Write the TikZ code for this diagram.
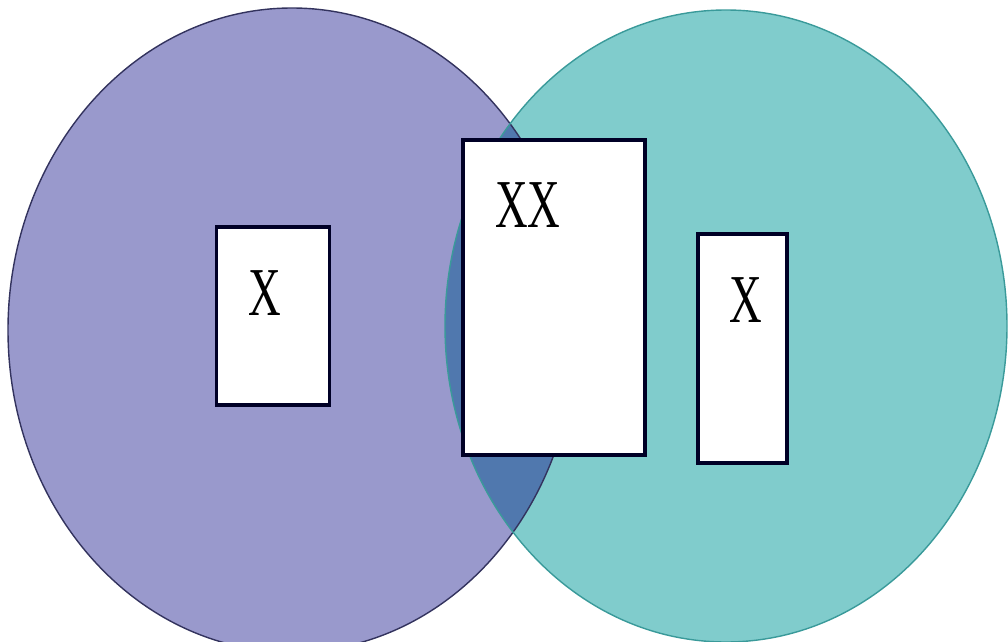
\documentclass[tikz,border=0pt]{standalone}
\usepackage{fontspec}
\setmainfont{Liberation Serif}
\usepackage{xcolor}
\usepackage{tikz}
\definecolor{setleft}{HTML}{9999CC}
\definecolor{setright}{HTML}{80CCCC}
\definecolor{setboth}{HTML}{5078AE}
\definecolor{edgeleft}{HTML}{33335E}
\definecolor{edgeright}{HTML}{3A9A9A}

\tikzset{
  elembox/.style={draw=black!85!blue, line width=1.8pt, fill=white, inner sep=0pt},
  elemlabel/.style={font=\fontsize{39}{40}\selectfont, inner sep=0pt}
}

\begin{document}
\begin{tikzpicture}[x=0.02cm, y=-0.02cm]
      \useasboundingbox (0,0) rectangle (1008,642);
      \clip (0,0) rectangle (1008,642);

      % Set regions
      \fill[setleft] (292,330) ellipse [x radius=284, y radius=322];
      \fill[setright] (726,326) ellipse [x radius=281, y radius=316];

      % Overlap region
      \begin{scope}
        \clip (292,330) ellipse [x radius=284, y radius=322];
        \fill[setboth] (726,326) ellipse [x radius=281, y radius=316];
      \end{scope}

      % Outlines
      \draw[edgeleft, line width=0.8pt] (292,330) ellipse [x radius=284, y radius=322];
      \draw[edgeright, line width=0.8pt] (726,326) ellipse [x radius=281, y radius=316];

      % Element boxes
      \node[elembox, minimum width=2.26cm, minimum height=3.56cm] (lbox) at (273,316) {};
      \node[elembox, minimum width=3.64cm, minimum height=6.30cm] (mbox) at (554,297.5) {};
      \node[elembox, minimum width=1.78cm, minimum height=4.58cm] (rbox) at (742.5,348.5) {};

      % Labels
      \node[elemlabel] (llabel) at (265,293) {\scalebox{0.66}[1]{X}};
      \node[elemlabel] (mlabel) at (528,205) {\scalebox{0.66}[1]{XX}};
      \node[elemlabel] (rlabel) at (746,300) {\scalebox{0.66}[1]{X}};
  \end{tikzpicture}
\end{document}
